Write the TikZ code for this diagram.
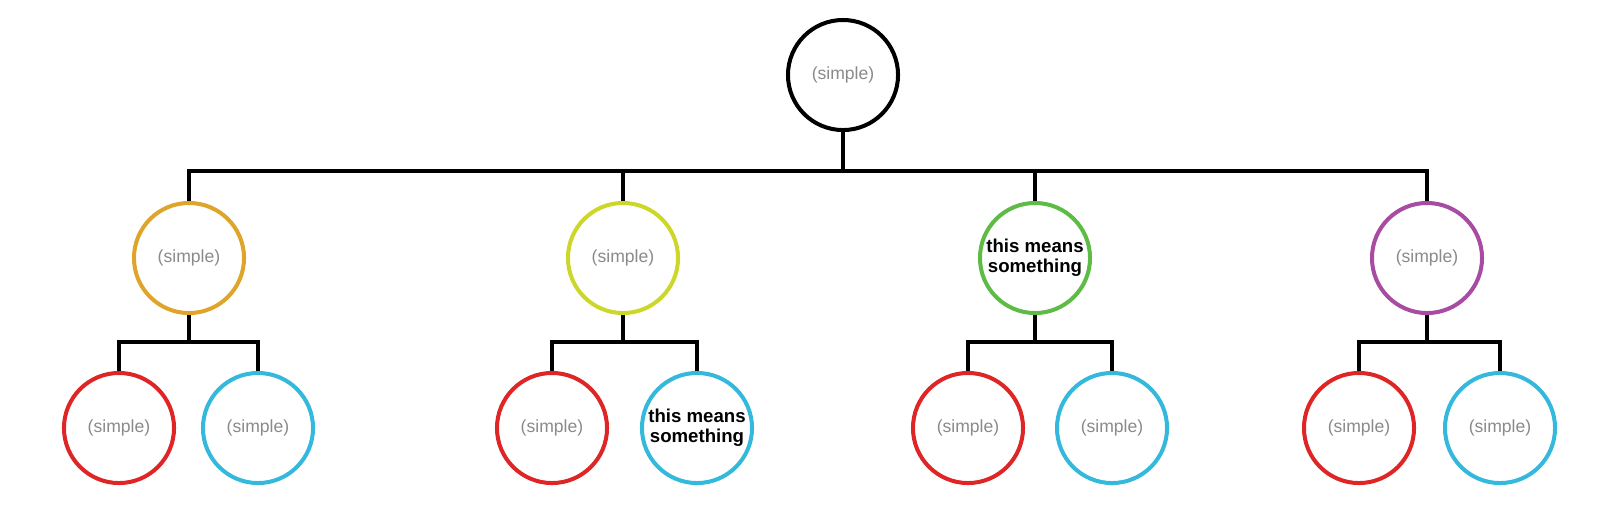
\documentclass[tikz,border=0pt]{standalone}
\usepackage{fontspec}
\setmainfont{Liberation Sans}
\definecolor{orangeC}{HTML}{DFA52A}
\definecolor{yellowC}{HTML}{CCD72A}
\definecolor{greenC}{HTML}{5DBB46}
\definecolor{purpleC}{HTML}{A84CA3}
\definecolor{redC}{HTML}{DE2626}
\definecolor{cyanC}{HTML}{34B9DC}
\definecolor{textgray}{HTML}{8A8A8A}
\def\dulltext{(simple)}
\def\meanstext{this means\\something}

\begin{document}
\begin{tikzpicture}[x=0.01cm, y=-0.01cm]
  \tikzstyle{bubble}=[circle,draw,line width=1.14pt,minimum size=1.1cm,inner sep=0pt,align=center]
  \tikzstyle{dull}=[bubble,text=textgray,font=\fontsize{5}{5.6}\selectfont]
  \tikzstyle{means}=[bubble,text=black,font=\fontsize{5.3}{5.6}\selectfont\bfseries]
  \tikzstyle{link}=[draw=black,line width=1.14pt]

  \useasboundingbox (0,0) rectangle (1600,514);

  \node[dull,draw=black] (R) at (843,75) {\dulltext};

  \foreach \name/\x/\col/\kind in {1/189/orangeC/dull,2/623/yellowC/dull,3/1035/greenC/means,4/1427/purpleC/dull}
    \node[\kind,draw=\col] (L-\name) at (\x,258) {\csname\kind text\endcsname};

  \foreach \name/\lx/\rx/\kind in {1/119/258/dull,2/552/697/means,3/968/1112/dull,4/1359/1500/dull}
  {
    \node[dull,draw=redC] (C-\name-1) at (\lx,428) {\dulltext};
    \node[\kind,draw=cyanC] (C-\name-2) at (\rx,428) {\csname\kind text\endcsname};
  }

  \foreach \dest in {1,...,4}
    \draw[link] (R.south) -- ++(0,39) -| (L-\dest.north);

  \foreach \source in {1,...,4}
    \foreach \dest in {1,2}
      \draw[link] (L-\source.south) -- ++(0,27) -| (C-\source-\dest.north);
\end{tikzpicture}
\end{document}
